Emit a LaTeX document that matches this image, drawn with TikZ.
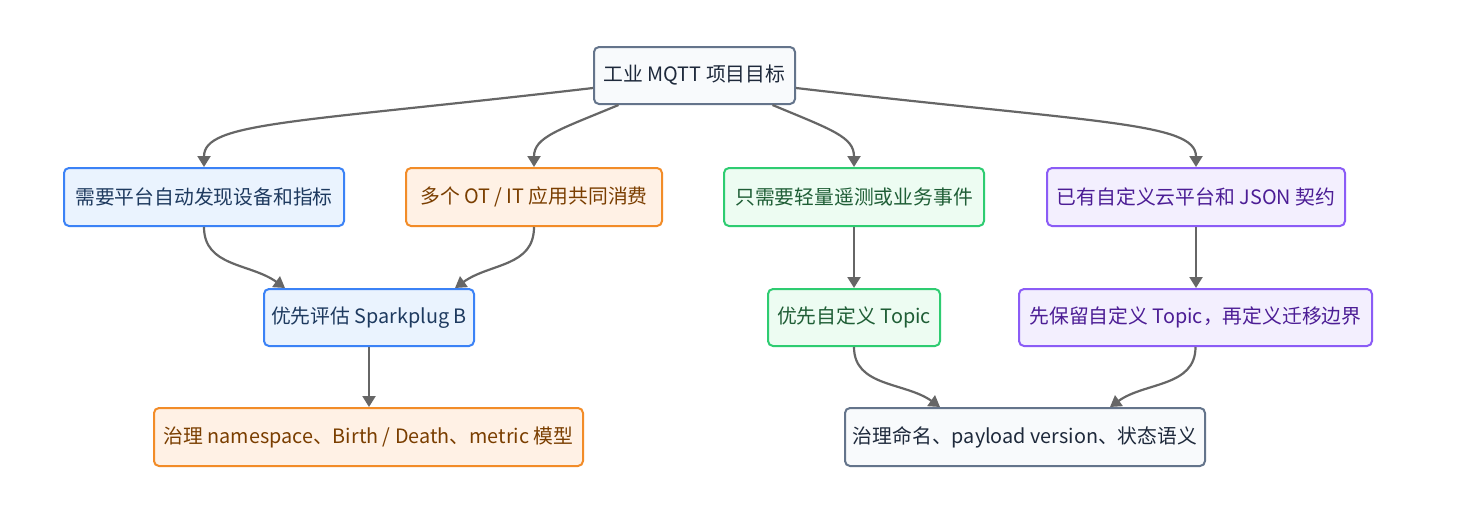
\documentclass[tikz,border=0pt]{standalone}
\usepackage{fontspec}
\setmainfont{Noto Sans CJK SC}
\usetikzlibrary{arrows.meta,calc}
\definecolor{bluestroke}{HTML}{3B82F6}
\definecolor{bluefill}{HTML}{EAF3FE}
\definecolor{bluetext}{HTML}{1E3A5F}
\definecolor{orstroke}{HTML}{F28C28}
\definecolor{orfill}{HTML}{FFF1E5}
\definecolor{ortext}{HTML}{7A3E00}
\definecolor{grstroke}{HTML}{2ECC71}
\definecolor{grfill}{HTML}{EDFCF2}
\definecolor{grtext}{HTML}{1F5E36}
\definecolor{pustroke}{HTML}{8B5CF6}
\definecolor{pufill}{HTML}{F3EFFE}
\definecolor{putext}{HTML}{4C1D95}
\definecolor{gystroke}{HTML}{64748B}
\definecolor{gyfill}{HTML}{F8FAFC}
\definecolor{gytext}{HTML}{1E293B}
\definecolor{edgecol}{HTML}{666666}
\tikzset{
  box/.style={rectangle, rounded corners=5pt, line width=2pt, inner sep=0pt,
    font=\fontsize{19.8pt}{24pt}\selectfont},
  bluebox/.style={box, draw=bluestroke, fill=bluefill, text=bluetext},
  orbox/.style={box, draw=orstroke, fill=orfill, text=ortext},
  grbox/.style={box, draw=grstroke, fill=grfill, text=grtext},
  pubox/.style={box, draw=pustroke, fill=pufill, text=putext},
  gybox/.style={box, draw=gystroke, fill=gyfill, text=gytext},
  edge/.style={draw=edgecol, line width=2.2pt, -{Triangle[length=11pt,width=13pt]}}
}
\begin{document}
\begin{tikzpicture}[x=1pt,y=1pt]
\useasboundingbox[fill=white] (0,0) rectangle (1458,-530);
\node[gybox, minimum width=201pt, minimum height=57pt] (root) at (694.5,-75.5) {工业 MQTT 项目目标};
\node[bluebox, minimum width=280pt, minimum height=58pt] (A) at (204,-197) {需要平台自动发现设备和指标};
\node[orbox, minimum width=256pt, minimum height=58pt] (B) at (534,-197) {多个 OT / IT 应用共同消费};
\node[grbox, minimum width=260pt, minimum height=58pt] (C) at (854,-197) {只需要轻量遥测或业务事件};
\node[pubox, minimum width=298pt, minimum height=58pt] (D) at (1196,-197) {已有自定义云平台和 JSON 契约};
\node[bluebox, minimum width=210pt, minimum height=57pt] (E) at (369,-317.5) {优先评估 Sparkplug B};
\node[grbox, minimum width=172pt, minimum height=57pt] (F) at (854,-317.5) {优先自定义 Topic};
\node[pubox, minimum width=353pt, minimum height=57pt] (G) at (1195.5,-317.5) {先保留自定义 Topic，再定义迁移边界};
\node[orbox, minimum width=429pt, minimum height=58pt] (H) at (368.5,-437) {治理 namespace、Birth / Death、metric 模型};
\node[gybox, minimum width=360pt, minimum height=58pt] (I) at (1025,-437) {治理命名、payload version、状态语义};

\draw[edge] ([yshift=-12.5pt]root.west) .. controls +(-300,-35) and +(0,45) .. (A.north);
\draw[edge] ([xshift=-76pt]root.south) .. controls +(-60,-25) and +(0,30) .. (B.north);
\draw[edge] ([xshift=78pt]root.south) .. controls +(60,-25) and +(0,30) .. (C.north);
\draw[edge] ([yshift=-12.5pt]root.east) .. controls +(300,-35) and +(0,45) .. (D.north);
\draw[edge] (A.south) .. controls +(0,-40) and +(-35,25) .. ([xshift=-84pt]E.north);
\draw[edge] (B.south) .. controls +(0,-40) and +(35,25) .. ([xshift=86pt]E.north);
\draw[edge] (E.south) -- (E.south |- H.north);
\draw[edge] (C.south) -- (F.north);
\draw[edge] (D.south) -- (D.south |- G.north);
\draw[edge] (F.south) .. controls +(0,-40) and +(-35,25) .. ([xshift=-85pt]I.north);
\draw[edge] (G.south) .. controls +(0,-40) and +(35,25) .. ([xshift=85pt]I.north);
\end{tikzpicture}
\end{document}
